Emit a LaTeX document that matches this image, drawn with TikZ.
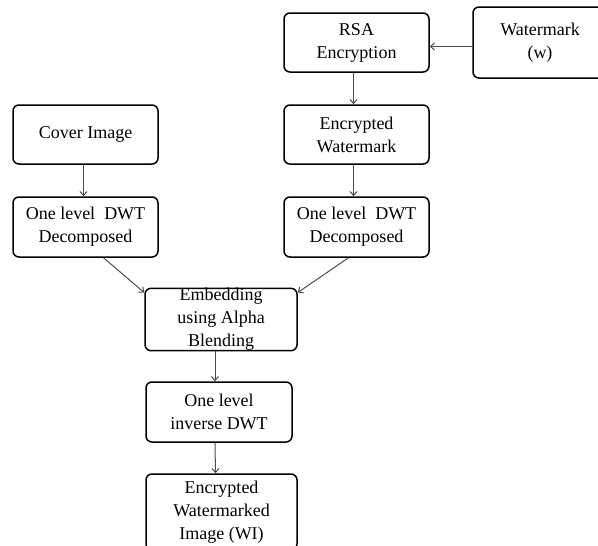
\documentclass[tikz,border=0pt]{standalone}
\usepackage{fontspec}
\setmainfont{Liberation Serif}
\usetikzlibrary{arrows.meta}
\begin{document}
\begin{tikzpicture}[x=1pt,y=-1pt,
    blk/.style={draw,line width=1.5pt,rounded corners=6pt,inner sep=0pt,
      align=center,font=\fontsize{18}{23}\selectfont},
    arr/.style={-{Straight Barb[length=4pt,width=7pt]},line width=1pt,draw=black!70}]
        \useasboundingbox (0,0) rectangle (598,546);

        % Watermark encryption branch
        \node[blk,minimum width=145pt,minimum height=59pt] (rsa) at (356.5,42.5) {RSA\\Encryption};
        \node[blk,minimum width=134pt,minimum height=71pt] (wm) at (540,42.5) {Watermark\\(w)};
        \node[blk,minimum width=145pt,minimum height=59pt] (encw) at (356.5,134.5) {Encrypted\\Watermark};
        \node[blk,minimum width=145pt,minimum height=60pt] (dwtr) at (356.5,227) {One level\ \ DWT\\Decomposed};

        % Cover image branch
        \node[blk,minimum width=145pt,minimum height=59pt] (cover) at (85.5,134.5) {Cover Image};
        \node[blk,minimum width=145pt,minimum height=60pt] (dwtl) at (85.5,227) {One level\ \ DWT\\Decomposed};

        % Embedding and reconstruction
        \node[blk,minimum width=152pt,minimum height=61pt] (emb) at (221,319.5) {Embedding\\using Alpha\\Blending};
        \node[blk,minimum width=146pt,minimum height=60pt] (idwt) at (219,412) {One level\\inverse DWT};
        \node[blk,minimum width=151pt,minimum height=76pt] (wi) at (221.5,512) {Encrypted\\Watermarked\\Image (WI)};

        % Connectors
        \draw[arr] ([yshift=-4pt]wm.west) -- ([yshift=-4pt]rsa.east);
        \draw[arr] ([xshift=-3pt]rsa.south) -- ([xshift=-3pt]encw.north);
        \draw[arr] ([xshift=-3pt]encw.south) -- ([xshift=-3pt]dwtr.north);
        \draw[arr] ([xshift=-2pt]cover.south) -- ([xshift=-2pt]dwtl.north);
        \draw[arr] ([xshift=18pt]dwtl.south) -- ([yshift=-5pt]emb.north west);
        \draw[arr] ([xshift=-8pt]dwtr.south) -- ([yshift=-5pt]emb.north east);
        \draw[arr] ([xshift=-6pt]emb.south) -- ([xshift=-4pt]idwt.north);
        \draw[arr] ([xshift=-4pt]idwt.south) -- ([xshift=-6pt]wi.north);
    \end{tikzpicture}
\end{document}
